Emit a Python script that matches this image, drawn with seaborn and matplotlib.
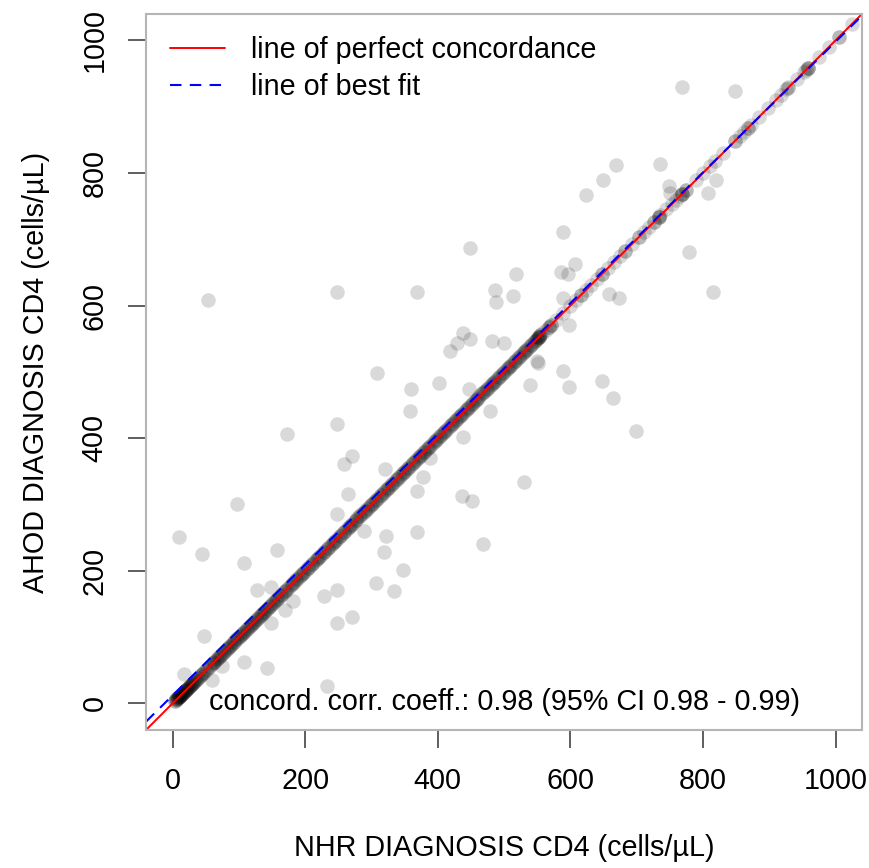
import numpy as np
import pandas as pd
import matplotlib
matplotlib.use("Agg")
import matplotlib.pyplot as plt
import seaborn as sns

# patients whose two CD4 counts agree (NHR == AHOD)
concordant = [
    3, 4, 5, 6, 6, 7, 8, 8, 9, 10, 10, 11, 12, 12, 13, 14, 15, 15, 16, 17,
    18, 19, 20, 20, 21, 22, 23, 24, 25, 26, 27, 28, 29, 30, 31, 32, 33, 35,
    36, 38, 39, 41, 43, 44, 46, 48, 50, 52, 55, 57, 59,
    61, 63, 66, 68, 70, 73, 75, 78, 80, 83, 85, 88, 90, 93, 95, 98, 100, 103,
    105, 108, 110, 113, 115, 118, 120, 123, 125, 128, 130, 133, 135, 138, 140,
    143, 145, 148,
    151, 156, 159, 163, 168, 171, 175, 180, 183, 187, 192, 195, 199, 204, 207,
    211, 216, 219, 223, 228, 231, 235, 240, 243, 247, 252, 255, 259, 264, 267,
    271, 276, 279, 283, 288, 291, 295, 300, 303, 307, 312, 315, 319, 324, 327,
    331, 336, 339, 343, 348, 351, 355, 360, 363, 367, 372, 375, 379, 384, 387,
    391, 396, 399, 403, 408, 411, 415, 420, 423, 427, 432, 435, 439, 444, 447,
    451, 456, 459, 463, 468, 471, 475, 480, 483, 487, 492, 495, 499, 504, 507,
    511, 516, 519, 523, 528, 531, 535, 540, 543, 547, 550, 552, 555, 558,
    563, 571, 578, 589, 599, 608, 616, 624, 631, 640, 648, 657, 666, 675, 683,
    693, 703, 711, 718, 726, 733, 736, 745, 753, 760, 766, 769, 775, 790, 800,
    810, 818, 830, 848, 856, 862, 868, 872, 885, 898, 910, 918, 926, 929, 942,
    952, 956, 959, 975, 990, 1005, 1025,
    # repeated values
    62, 67, 72, 77, 82, 87, 92, 97, 102, 107, 112, 117, 122, 127, 132, 137,
    142, 147, 152, 158, 165, 173, 181, 189, 197, 205, 213, 221, 229, 237, 245,
    253, 261, 269, 277, 285, 293, 301, 309, 317, 325, 333, 341, 349, 357, 365,
    373, 381, 389, 397, 405, 413, 421, 429, 437, 445, 453, 461, 469, 477, 485,
    493, 501, 509, 517, 525, 533, 541, 549, 553, 553, 555, 568, 568, 733, 733,
    768, 768, 868, 848, 775, 928, 958, 958, 1005,
    154, 162, 170, 178, 186, 194, 202, 210, 218, 226, 234, 242, 250, 258, 266,
    274, 282, 290, 298, 306, 314, 322, 330, 338, 346, 354, 362, 370, 378, 386,
    394, 402, 410, 418, 426, 434, 442, 450, 458, 466, 474, 482, 490, 498, 506,
    514, 522, 530, 538, 546, 553, 571, 616, 648, 683, 703, 726,
]

# discordant patients (NHR value, AHOD value)
nhr_off = [
    10, 44, 98, 172, 309, 360, 402, 358, 447, 479, 248, 271, 259, 438, 321,
    265, 248, 389, 378, 369, 437, 452, 289, 322, 369, 319, 468, 348, 307, 334,
    158, 108, 128, 149, 182, 169, 149, 229, 248, 248, 270, 47, 108, 143, 233,
    18, 60, 75,
    53, 248, 369, 449, 486, 488, 438, 429, 449, 419, 482,
    768, 849, 669, 736, 649, 623, 749, 750, 819, 807, 589, 607, 586, 596, 518,
    514, 779, 815, 658, 673, 589, 598, 550, 500,
    551, 589, 539, 598, 648, 664, 699, 530,
]
ahod_off = [
    251, 226, 301, 406, 498, 475, 484, 441, 475, 441, 421, 373, 361, 402, 353,
    316, 286, 370, 341, 320, 313, 305, 260, 253, 259, 229, 241, 202, 182, 170,
    232, 212, 171, 176, 155, 141, 122, 162, 171, 122, 131, 101, 62, 54, 26,
    44, 35, 57,
    608, 620, 620, 687, 623, 605, 559, 544, 550, 531, 546,
    929, 923, 812, 813, 789, 767, 780, 770, 789, 770, 711, 663, 650, 648, 647,
    615, 681, 620, 618, 612, 612, 571, 516, 543,
    514, 501, 480, 477, 487, 460, 411, 334,
]

fit_intercept = 12
fit_slope = 0.986
ccc_label = "concord. corr. coeff.: 0.98 (95% CI 0.98 - 0.99)"

df = pd.DataFrame({
    "nhr": list(concordant) + nhr_off,
    "ahod": list(concordant) + ahod_off,
})

sns.set_theme(style="white")
plt.rcParams["font.family"] = ["Liberation Sans", "DejaVu Sans"]
plt.rcParams["text.color"] = "black"
plt.rcParams["axes.labelcolor"] = "black"
plt.rcParams["xtick.color"] = "black"
plt.rcParams["ytick.color"] = "black"

FS = 20.7

fig = plt.figure(figsize=(8.69, 8.68), dpi=100)
ax = fig.add_axes([0.168, 0.159, 0.824, 0.825])

sns.scatterplot(data=df, x="nhr", y="ahod", ax=ax, color="black",
                alpha=0.15, s=110, linewidth=0, legend=False)

ax.axline((0, 0), slope=1, color="red", lw=1.4,
          label="line of perfect concordance")
ax.axline((0, fit_intercept), slope=fit_slope, color="blue", lw=1.5,
          linestyle=(0, (5.5, 4)), label="line of best fit")

ax.text(500, 2, ccc_label, ha="center", va="center", fontsize=FS)

ax.set_xlim(-40, 1040)
ax.set_ylim(-40, 1040)
ticks = [0, 200, 400, 600, 800, 1000]
ax.set_xticks(ticks)
ax.set_yticks(ticks)
ax.tick_params(axis="both", which="major", direction="out", length=13,
               width=1.1, color="#333333", pad=14, labelsize=FS,
               bottom=True, left=True)
for lab in ax.get_yticklabels():
    lab.set_rotation(90)
    lab.set_va("center")

for sp in ax.spines.values():
    sp.set_color("#b5b5b5")
    sp.set_linewidth(1.5)

ax.set_xlabel("NHR DIAGNOSIS CD4 (cells/µL)", fontsize=FS, labelpad=28)
ax.set_ylabel("AHOD DIAGNOSIS CD4 (cells/µL)", fontsize=FS, labelpad=22)

ax.legend(loc="upper left", bbox_to_anchor=(0.034, 0.969), frameon=False,
          fontsize=FS, handlelength=1.9, handletextpad=0.9,
          borderpad=0, borderaxespad=0, labelspacing=0.3)

fig.savefig("out.png", dpi=100)
